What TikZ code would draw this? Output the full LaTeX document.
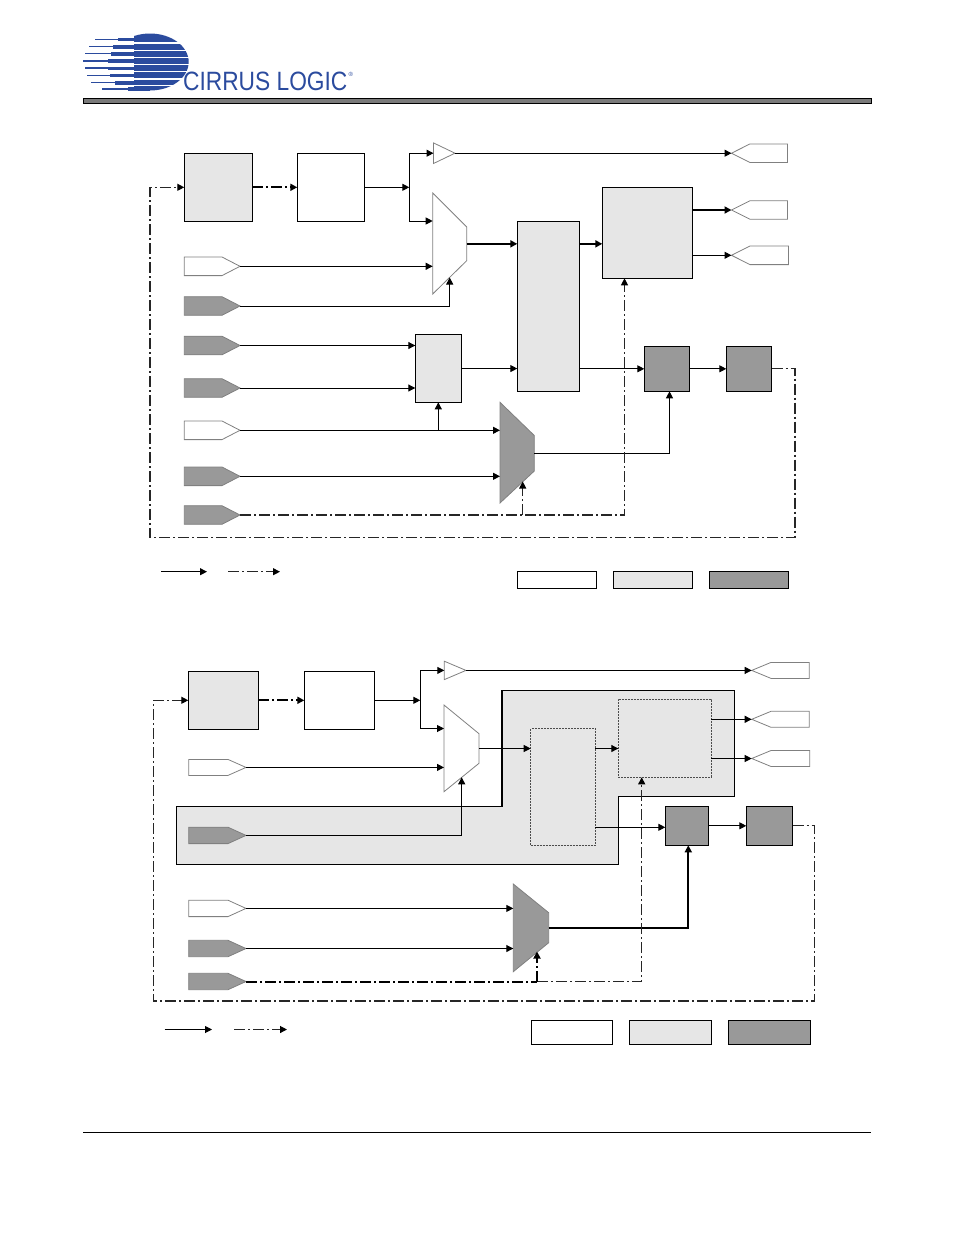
\documentclass[tikz,border=0pt]{standalone}
\usepackage{fontspec}
\setmainfont{Liberation Sans}
\usetikzlibrary{arrows.meta}
\definecolor{lite}{HTML}{E6E6E6}
\definecolor{dark}{HTML}{999999}
\definecolor{edge}{HTML}{808080}
\definecolor{logoblue}{HTML}{2B4B9E}
\tikzset{
  ln/.style={line width=1pt,black},
  thk/.style={line width=2pt,black},
  arr/.style={-{Triangle[length=7pt,width=7pt]}},
  dd/.style={line width=1.2pt,black!85,dash pattern=on 11pt off 3pt on 2pt off 3pt,arrows={-{Triangle[length=7pt,width=7pt,fill=black,color=black]}}},
  ddk/.style={line width=2pt,black,dash pattern=on 11pt off 3pt on 2pt off 3pt},
  blk/.style={draw=black,line width=1pt,inner sep=0pt,outer sep=0pt},
  wbox/.style={blk,fill=white},
  lbox/.style={blk,fill=lite},
  dbox/.style={blk,fill=dark},
  dashbox/.style={draw=black!70,line width=1pt,fill=lite,inner sep=0pt,outer sep=0pt,dash pattern=on 2pt off 1pt},
  wshape/.style={draw=edge,line width=.8pt,fill=white},
  dshape/.style={draw=edge,line width=.8pt,fill=dark},
}
\newcommand{\bx}[6]{%
  \pgfmathsetmacro{\bxw}{#5-#3}\pgfmathsetmacro{\bxh}{#6-#4}%
  \pgfmathsetmacro{\bxx}{(#5+#3)/2}\pgfmathsetmacro{\bxy}{(#6+#4)/2}%
  \node[#2,minimum width=\bxw pt,minimum height=\bxh pt] (#1) at (\bxx,\bxy) {};}
\newcommand{\pinshape}[7]{%
  \pgfmathsetmacro{\pa}{#6-#7}\pgfmathsetmacro{\pb}{#6+#7}%
  \draw[#2] (#3,\pa) -- (#4,\pa) -- (#5,#6) -- (#4,\pb) -- (#3,\pb) -- cycle;
  \coordinate (#1) at (#5,#6);}
\newcommand{\muxshape}[8]{%
  \draw[#2] (#3,#4) -- (#5,#6) -- (#5,#7) -- (#3,#8) -- cycle;
  \pgfmathsetmacro{\mo}{(#6+#7)/2}%
  \coordinate (#1-o) at (#5,\mo);
  \coordinate (#1-w) at (#3,#4);}
\begin{document}
\begin{tikzpicture}[x=1pt,y=-1pt]
\useasboundingbox (0,0) rectangle (954,1235);
% ---------- logo
\begin{scope}
  \clip (134,30) rectangle (195,95);
  \fill[logoblue] (150,62) ellipse [x radius=38.7,y radius=28.5];
\end{scope}
\foreach \yy/\xa/\xb/\xc in {39.3/95/118/145,46.5/89/113/138,53.7/85/111/135,60.9/83/108/135,68.1/85/108/135,75.3/87/110/135,82.5/91/115/138,89/102/128/150}{
  \fill[logoblue] (\xa,\yy-.7) rectangle (\xb,\yy+.7);
  \fill[logoblue] (\xb,\yy-1.6) rectangle (\xc,\yy+2);
}
\foreach \yy in {43,50.1,57.3,64.5,71.7,78.9,85.6}{
  \fill[white] (134,\yy-.6) rectangle (192,\yy+.6);
}
\node[anchor=west,inner sep=0pt,text=logoblue,xscale=.858] (logotext) at (183,81.5)
  {\fontsize{26.5}{26.5}\selectfont CIRRUS LOGIC};
\node[anchor=west,inner sep=0pt,text=logoblue] (logomark) at (348.5,74)
  {\fontsize{6}{6}\selectfont ®};
% header bar and footer rule
\bx{hbar}{draw=black,line width=1pt,fill=edge!95!black,inner sep=0pt,outer sep=0pt}{83.5}{98.5}{871}{103}
\bx{frule}{fill=black,inner sep=0pt,outer sep=0pt}{83}{1131.5}{871}{1133}

% ---------- upper diagram
\bx{A1}{lbox}{184.3}{153.3}{252.3}{221.3}
\bx{B1}{wbox}{297.3}{153.3}{364.3}{221.3}
\bx{C1}{lbox}{415.3}{334.8}{461.3}{402.3}
\bx{D1}{lbox}{517.3}{221.3}{579.3}{391.3}
\bx{E1}{lbox}{602.3}{187.3}{692.3}{278.3}
\bx{F1}{dbox}{644.3}{346.3}{689.7}{391.3}
\bx{G1}{dbox}{726.3}{346.3}{771.7}{391.3}
\pinshape{T1}{wshape}{433.5}{433.5}{455}{153.2}{10.3}
\coordinate (T1-i) at (433.5,153.2);
\muxshape{M1}{wshape}{432.7}{193}{466.7}{227}{260.7}{294}
\muxshape{M2}{dshape}{500}{402.3}{534.3}{435.5}{471}{503}
\pinshape{P1}{wshape}{184.3}{222}{240}{266.3}{9.3}
\pinshape{P2}{dshape}{184.3}{222}{240}{306}{9.3}
\pinshape{P3}{dshape}{184.3}{222}{240}{345.5}{9.3}
\pinshape{P4}{dshape}{184.3}{222}{240}{388}{9.3}
\pinshape{P5}{wshape}{184.3}{222}{240}{430.3}{9.3}
\pinshape{P6}{dshape}{184.3}{222}{240}{476.3}{9.3}
\pinshape{P7}{dshape}{184.3}{222}{240}{515}{9.3}
\pinshape{Q1}{wshape}{787.5}{750}{731.5}{153.2}{9.3}
\pinshape{Q2}{wshape}{787.5}{750}{731.5}{210}{9.3}
\pinshape{Q3}{wshape}{788.5}{750}{731.5}{255.3}{9.3}
\coordinate (j1) at (409.3,187.3);
\coordinate (m1a) at (432.7,221);
\coordinate (m1c) at (449.7,277.5);
\coordinate (c1j) at (438.3,430.3);
\coordinate (f1s) at (669.5,391.3);
\coordinate (e1s) at (624.5,278.3);
\coordinate (m2b) at (522.7,481.5);
\coordinate (c1a) at (795,537.5);
\coordinate (c1b) at (150,537.5);
\coordinate (l1a) at (161,571.7);
\coordinate (l1b) at (207,571.7);
\coordinate (l1c) at (228,571.7);
\coordinate (l1d) at (280,571.7);
\draw[ddk,arr] (A1.east) -- (B1.west);
\draw[ln,arr] (B1.east) -- (j1);
\draw[ln,arr] (j1) |- (T1-i);
\draw[ln,arr] (j1) |- (m1a);
\draw[ln,arr] (T1) -- (Q1);
\draw[ln,arr] (P1) -- (M1-w |- P1);
\draw[ln,arr] (P2) -| (m1c);
\draw[thk,arr] (M1-o) -- (D1.west |- M1-o);
\draw[thk,arr] (D1.east |- M1-o) -- (E1.west |- M1-o);
\draw[thk,arr] (E1.east |- Q2) -- (Q2);
\draw[ln,arr] (E1.east |- Q3) -- (Q3);
\draw[ln,arr] (P3) -- (C1.west |- P3);
\draw[ln,arr] (P4) -- (C1.west |- P4);
\draw[ln,arr] (C1.east) -- (D1.west |- C1.east);
\draw[ln,arr] (D1.east |- F1.west) -- (F1.west);
\draw[ln,arr] (F1.east) -- (G1.west);
\draw[ln,arr] (P5) -- (M2-w |- P5);
\draw[ln,arr] (c1j) -- (C1.south -| c1j);
\draw[ln,arr] (P6) -- (M2-w |- P6);
\draw[ln,arr] (M2-o) -| (f1s);
\draw[dd] (P7) -| (e1s);
\draw[dd] (m2b |- P7) -- (m2b);
\draw[dd] (G1.east) -| (c1a) -- (c1b) |- (A1.west);
\draw[ln,arr] (l1a) -- (l1b);
\draw[dd] (l1c) -- (l1d);
\bx{L1}{wbox}{517.3}{571.4}{596.7}{588.3}
\bx{L2}{lbox}{613.3}{571.4}{692.7}{588.3}
\bx{L3}{dbox}{709.3}{571.4}{788.7}{588.3}

% ---------- lower diagram
\draw[ln,fill=lite] (176.3,806.4) -- (502,806.4) -- (502,690.3) -- (734.3,690.3) -- (734.3,796.3)
  -- (618.3,796.3) -- (618.3,864.3) -- (176.3,864.3) -- cycle;
\coordinate (r2a) at (502,806.4);
\coordinate (r2b) at (502,690.3);
\draw[line width=1.8pt,black] (r2a) -- (r2b);
\bx{A2}{lbox}{188.3}{671.3}{258.3}{729.3}
\bx{B2}{wbox}{304.3}{671.3}{374.3}{729.3}
\bx{D2}{dashbox}{530.7}{728.7}{595.3}{845.3}
\bx{E2}{dashbox}{618.3}{699.3}{711.3}{777.3}
\bx{F2}{dbox}{665.3}{806.3}{708.7}{845.3}
\bx{G2}{dbox}{746.3}{806.3}{792.7}{845.3}
\pinshape{T2}{wshape}{444.3}{444.3}{466}{670.4}{9.2}
\coordinate (T2-i) at (444.3,670.4);
\muxshape{M3}{wshape}{444}{705}{479}{733.7}{763.3}{791.7}
\muxshape{M4}{dshape}{513.3}{884}{548.7}{912.7}{942.7}{971.7}
\pinshape{R1}{wshape}{188.7}{228}{246}{767.4}{8}
\pinshape{R2}{dshape}{188.7}{228}{246}{835.4}{8.2}
\pinshape{R3}{wshape}{188.7}{228}{246}{908.4}{8.2}
\pinshape{R4}{dshape}{188.7}{228}{246}{948.5}{8.2}
\pinshape{R5}{dshape}{188.7}{228}{246}{981.5}{8.2}
\pinshape{S1}{wshape}{809.3}{771}{751.7}{670.4}{8}
\pinshape{S2}{wshape}{809.3}{771}{751.7}{719.3}{8}
\pinshape{S3}{wshape}{809.7}{771}{751.7}{758.5}{8}
\coordinate (j2) at (420.3,700.3);
\coordinate (m3a) at (444,728.5);
\coordinate (m3c) at (461.7,777.3);
\coordinate (f2i) at (665.3,827.3);
\coordinate (f2s) at (688.3,845.3);
\coordinate (e2s) at (641.7,777.3);
\coordinate (m4b) at (537,951.5);
\coordinate (c2a) at (814.7,1001);
\coordinate (c2b) at (153.3,1001);
\coordinate (l2a) at (164.7,1029.5);
\coordinate (l2b) at (212,1029.5);
\coordinate (l2c) at (234,1029.5);
\coordinate (l2d) at (287,1029.5);
\draw[ddk,arr] (A2.east) -- (B2.west);
\draw[ln,arr] (B2.east) -- (j2);
\draw[ln,arr] (j2) |- (T2-i);
\draw[ln,arr] (j2) |- (m3a);
\draw[ln,arr] (T2) -- (S1);
\draw[ln,arr] (R1) -- (M3-w |- R1);
\draw[ln,arr] (R2) -| (m3c);
\draw[ln,arr] (M3-o) -- (D2.west |- M3-o);
\draw[ln,arr] (D2.east |- M3-o) -- (E2.west |- M3-o);
\draw[ln,arr] (E2.east |- S2) -- (S2);
\draw[ln,arr] (E2.east |- S3) -- (S3);
\draw[ln,arr] (D2.east |- f2i) -- (f2i);
\draw[ln,arr] (F2.east) -- (G2.west);
\draw[ln,arr] (R3) -- (M4-w |- R3);
\draw[ln,arr] (R4) -- (M4-w |- R4);
\draw[thk,arr] (M4-o) -| (f2s);
\draw[dd] (m4b |- R5) -| (e2s);
\draw[ddk] (R5) -- (m4b |- R5);
\draw[ddk,arr] (m4b |- R5) -- (m4b);
\draw[dd] (G2.east) -| (c2a) -- (c2b) |- (A2.west);
\draw[ln,arr] (l2a) -- (l2b);
\draw[dd] (l2c) -- (l2d);
\bx{L4}{wbox}{531.3}{1020.3}{612.5}{1044.3}
\bx{L5}{lbox}{629.3}{1020.3}{711.5}{1044.3}
\bx{L6}{dbox}{728.3}{1020.3}{810}{1044.3}
\end{tikzpicture}
\end{document}
